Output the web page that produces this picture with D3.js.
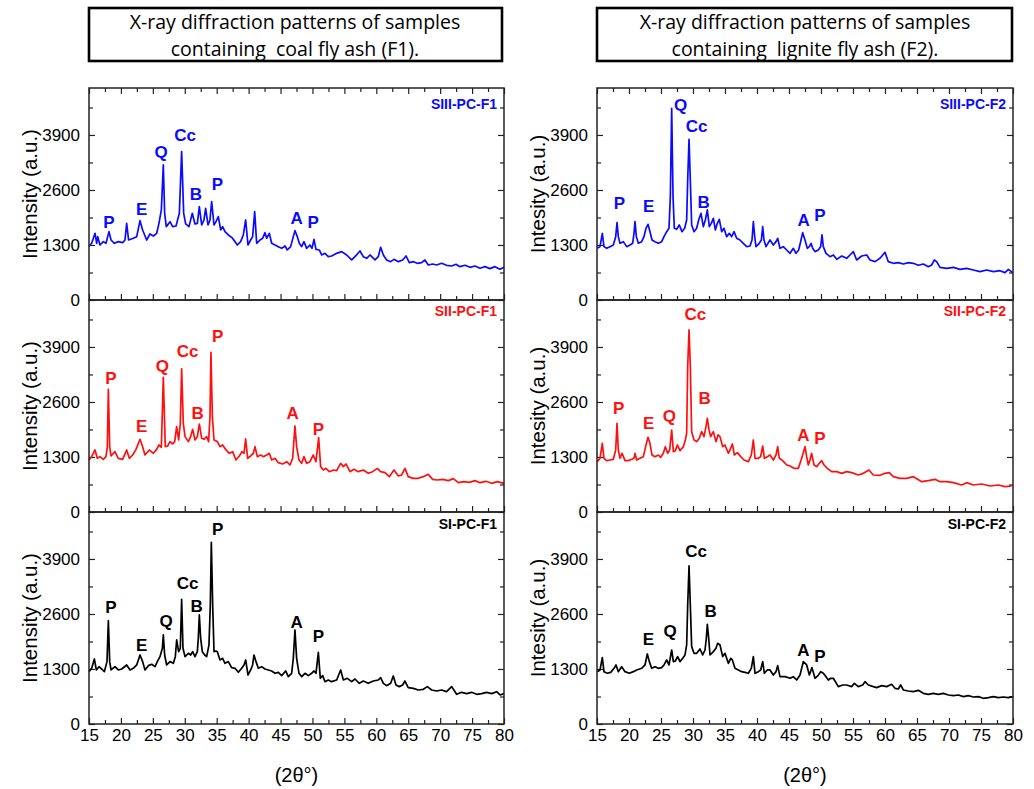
<!DOCTYPE html>
<html>
<head>
<meta charset="utf-8">
<script src="https://cdn.jsdelivr.net/npm/d3@7"></script>
<style>
  body { margin: 0; background: #fff; }
  text { font-family: "Liberation Sans", Arial, Helvetica, sans-serif; }
  text.header { font-family: "Open Sans", "Liberation Sans", Arial, sans-serif; white-space: pre; }
</style>
</head>
<body>
<svg id="chart" width="1034" height="789"></svg>
<script>
// ---- Axis ticks -------------------------------------------------------
const xMajorTicks = [15, 20, 25, 30, 35, 40, 45, 50, 55, 60, 65, 70, 75, 80];
const xMinorTicks = [17.5, 22.5, 27.5, 32.5, 37.5, 42.5, 47.5, 52.5, 57.5, 62.5, 67.5, 72.5, 77.5];
const yMajorTicks = [0, 1300, 2600, 3900];
const yMinorTicks = [650, 1950, 3250, 4550];

// ---- Diffraction patterns: [2θ (deg), intensity (a.u.)] ----------------
const siiiF1 = [[15.0,1270],[15.42,1340],[15.94,1576],[16.2,1340],[16.36,1497],[16.72,1300],[17.24,1379],[17.66,1340],[18.13,1615],[18.45,1418],[18.97,1340],[19.6,1379],[20.27,1355],[20.64,1418],[20.9,1812],[21.2,1418],[21.94,1458],[22.47,1497],[22.99,1875],[23.4,1655],[24.03,1418],[24.55,1560],[25.08,1513],[25.6,1576],[25.96,1812],[26.33,2128],[26.64,3191],[26.85,2049],[27.11,1734],[27.69,1852],[28.1,1734],[28.63,1749],[29.15,2049],[29.51,3507],[29.83,2049],[30.14,1797],[30.66,1734],[31.18,2049],[31.6,1797],[31.97,1812],[32.28,2206],[32.65,1773],[33.01,1891],[33.27,2167],[33.64,1773],[33.95,1891],[34.21,2325],[34.58,1773],[34.89,1852],[35.26,1970],[35.62,1655],[35.93,1734],[36.3,1615],[36.82,1537],[37.34,1481],[37.87,1379],[38.23,1300],[38.75,1379],[39.17,1537],[39.54,1891],[39.9,1300],[40.32,1418],[40.63,1497],[40.95,2088],[41.26,1340],[41.78,1418],[42.2,1458],[42.56,1592],[42.83,1458],[43.24,1576],[43.61,1340],[44.13,1300],[44.65,1261],[45.18,1221],[45.7,1277],[46.06,1182],[46.58,1261],[47.0,1497],[47.26,1639],[47.63,1497],[47.94,1340],[48.3,1261],[48.67,1379],[49.09,1221],[49.61,1300],[49.93,1221],[50.24,1434],[50.55,1198],[51.07,1182],[51.44,1064],[51.96,1103],[52.48,1024],[53.0,1040],[53.79,1103],[54.57,1143],[55.36,1064],[56.14,946],[56.66,1024],[57.44,1158],[57.96,1024],[58.49,985],[59.01,1064],[59.8,946],[60.31,1024],[60.68,1245],[61.1,1064],[61.62,946],[62.25,906],[62.77,961],[63.45,906],[64.13,946],[64.65,1040],[65.17,883],[65.8,906],[66.42,867],[67.1,883],[67.62,946],[68.14,827],[68.82,851],[69.45,827],[70.23,867],[71.0,820],[71.8,804],[72.48,843],[73.1,788],[73.9,820],[74.67,772],[75.45,804],[76.24,749],[77.02,788],[77.8,741],[78.59,788],[79.37,725],[80.0,772]];

const siiF1 = [[15.0,1229],[15.42,1308],[15.94,1466],[16.3,1269],[16.72,1308],[17.24,1245],[17.66,1308],[17.87,1544],[18.03,2900],[18.24,1544],[18.45,1324],[19.07,1426],[19.59,1269],[20.27,1245],[20.9,1466],[21.32,1269],[21.84,1347],[22.36,1481],[22.99,1718],[23.4,1544],[23.77,1347],[24.45,1466],[25.08,1387],[25.6,1481],[25.96,1584],[26.33,1529],[26.64,3184],[26.95,1544],[27.32,1560],[27.69,1663],[28.1,1608],[28.42,1663],[28.73,2017],[29.04,1702],[29.3,2096],[29.51,3381],[29.77,2096],[30.04,1781],[30.56,1663],[30.92,1781],[31.24,1954],[31.6,1702],[31.97,1781],[32.28,2080],[32.65,1741],[33.01,1718],[33.43,1781],[33.74,1663],[33.95,2254],[34.1,3775],[34.32,2254],[34.58,1702],[35.1,1663],[35.52,1544],[35.93,1584],[36.46,1466],[36.98,1387],[37.5,1426],[38.02,1229],[38.54,1324],[38.96,1426],[39.28,1387],[39.54,1726],[39.85,1269],[40.32,1324],[40.74,1387],[41.0,1544],[41.36,1308],[41.89,1347],[42.3,1308],[42.83,1347],[43.24,1387],[43.61,1229],[44.13,1269],[44.65,1166],[45.33,1135],[45.96,1190],[46.48,1111],[46.9,1269],[47.26,2033],[47.52,1544],[47.89,1229],[48.31,1150],[48.67,1308],[49.09,1150],[49.61,1190],[50.13,1347],[50.55,1190],[50.97,1757],[51.28,1072],[51.7,993],[52.12,1032],[52.64,953],[53.27,993],[53.79,977],[54.42,1150],[54.84,1072],[55.25,1135],[55.88,953],[56.5,1009],[57.18,953],[57.96,993],[58.74,914],[59.42,953],[60.16,1032],[60.68,953],[61.36,930],[62.04,835],[62.77,993],[63.45,851],[63.97,875],[64.49,1032],[65.0,835],[65.8,796],[66.58,796],[67.36,835],[68.14,890],[68.82,772],[69.55,756],[70.39,772],[71.28,741],[72.06,788],[72.84,693],[73.73,717],[74.57,701],[75.45,741],[76.24,693],[77.18,725],[78.07,678],[78.95,717],[80.0,678]];

const siF1 = [[15.0,1237],[15.42,1316],[15.84,1537],[16.15,1277],[16.57,1355],[16.98,1300],[17.4,1237],[17.82,1474],[18.03,2443],[18.24,1474],[18.45,1277],[19.07,1355],[19.59,1277],[20.12,1300],[20.9,1395],[21.42,1277],[21.94,1316],[22.47,1395],[22.99,1631],[23.4,1474],[23.77,1277],[24.29,1379],[24.81,1411],[25.34,1355],[25.7,1474],[26.12,1592],[26.49,1789],[26.64,2104],[26.85,1631],[27.16,1395],[27.69,1474],[28.21,1434],[28.52,1592],[28.73,1986],[29.04,1710],[29.3,1789],[29.51,2947],[29.72,1789],[30.04,1592],[30.56,1671],[30.92,1631],[31.24,1710],[31.6,1592],[31.97,1710],[32.12,2025],[32.28,2577],[32.49,2025],[32.75,1710],[33.12,1631],[33.43,1592],[33.79,1868],[34.0,2813],[34.16,4295],[34.37,2813],[34.58,1710],[34.89,1726],[35.1,1710],[35.52,1513],[35.93,1552],[36.3,1434],[36.82,1474],[37.34,1332],[37.87,1316],[38.39,1221],[38.91,1316],[39.28,1395],[39.54,1513],[39.9,1158],[40.32,1277],[40.63,1395],[40.84,1631],[41.16,1474],[41.52,1316],[42.04,1355],[42.56,1300],[43.09,1277],[43.61,1253],[44.13,1198],[44.65,1221],[45.18,1143],[45.8,1253],[46.22,1119],[46.74,1198],[47.0,1552],[47.26,2222],[47.52,1552],[47.89,1198],[48.31,1119],[48.83,1198],[49.35,1143],[49.87,1198],[50.24,1253],[50.55,1198],[50.92,1694],[51.23,1080],[51.6,1143],[51.96,1001],[52.48,1040],[53.0,1001],[53.79,1040],[54.42,1277],[54.84,1040],[55.46,1080],[56.14,1001],[56.66,1064],[57.34,961],[57.96,1016],[58.74,961],[59.53,1016],[60.31,1040],[60.68,1095],[61.1,961],[61.62,906],[62.25,961],[62.66,1135],[63.08,922],[63.6,883],[64.13,922],[64.49,1016],[65.0,859],[65.8,843],[66.58,804],[67.36,820],[67.99,883],[68.67,804],[69.45,780],[70.23,804],[71.0,764],[71.8,883],[72.16,804],[72.58,701],[73.36,749],[74.15,717],[74.93,749],[75.71,701],[76.5,717],[77.28,749],[78.07,717],[78.85,764],[79.37,686],[80.0,717]];

const siiiF2 = [[15.05,1221],[15.47,1261],[15.83,1576],[16.09,1261],[16.51,1221],[17.03,1261],[17.55,1300],[17.92,1497],[18.13,1828],[18.33,1497],[18.59,1340],[19.11,1379],[19.64,1261],[20.16,1300],[20.57,1340],[20.78,1576],[20.94,1852],[21.15,1497],[21.46,1340],[21.98,1379],[22.34,1497],[22.66,1694],[22.97,1789],[23.28,1615],[23.59,1418],[24.06,1379],[24.58,1340],[25.1,1379],[25.47,1497],[25.89,1615],[26.25,1694],[26.46,2443],[26.67,4531],[26.88,2443],[27.08,1694],[27.45,1671],[27.86,1773],[28.28,1615],[28.7,1694],[29.01,1891],[29.17,2837],[29.38,3798],[29.58,2837],[29.79,1773],[30.16,1615],[30.57,1694],[30.89,1891],[31.25,2049],[31.61,1734],[31.93,1891],[32.24,2128],[32.55,1734],[32.86,1812],[33.18,1931],[33.49,1655],[33.8,1812],[34.11,1907],[34.48,1615],[34.84,1694],[35.26,1497],[35.68,1576],[36.04,1497],[36.41,1615],[36.82,1458],[37.34,1418],[37.86,1340],[38.39,1261],[38.91,1277],[39.22,1418],[39.43,1852],[39.64,1497],[39.84,1261],[40.36,1340],[40.68,1418],[40.89,1734],[41.09,1418],[41.41,1261],[42.03,1418],[42.55,1300],[42.97,1379],[43.23,1458],[43.59,1221],[44.11,1261],[44.64,1182],[45.16,1103],[45.68,1221],[46.09,1103],[46.51,1182],[46.88,1418],[47.14,1592],[47.5,1418],[47.86,1221],[48.18,1261],[48.44,1340],[48.7,1221],[49.06,1143],[49.58,1182],[49.95,1261],[50.16,1537],[50.36,1261],[50.78,1103],[51.41,1024],[51.93,1064],[52.45,961],[53.23,1040],[54.01,985],[54.53,1064],[55.05,1143],[55.57,946],[56.35,1040],[57.14,1064],[57.66,946],[58.44,906],[59.22,985],[60.0,1127],[60.52,906],[61.3,867],[62.08,883],[62.86,851],[63.65,883],[64.43,867],[65.21,820],[65.99,851],[66.77,788],[67.29,827],[67.71,946],[68.07,906],[68.59,772],[69.64,749],[70.68,772],[71.72,725],[72.76,749],[73.8,709],[74.84,670],[75.89,709],[76.93,670],[77.97,693],[78.75,646],[79.27,725],[79.95,646]];

const siiF2 = [[15.05,1190],[15.47,1269],[15.83,1623],[16.09,1269],[16.51,1214],[17.03,1229],[17.55,1245],[17.92,1466],[18.13,2096],[18.33,1466],[18.59,1269],[18.91,1387],[19.38,1214],[19.9,1214],[20.42,1245],[20.78,1269],[20.94,1387],[21.2,1229],[21.72,1269],[22.24,1308],[22.6,1544],[22.97,1765],[23.28,1623],[23.59,1347],[24.06,1308],[24.58,1347],[24.95,1292],[25.36,1387],[25.68,1544],[26.04,1387],[26.35,1466],[26.67,1938],[26.93,1426],[27.24,1450],[27.55,1584],[27.97,1450],[28.49,1544],[28.8,1702],[29.01,1860],[29.17,3436],[29.38,4302],[29.58,3436],[29.79,1899],[30.16,1702],[30.57,1663],[30.99,1741],[31.35,1899],[31.72,1781],[32.03,2017],[32.24,2214],[32.5,1938],[32.76,1781],[33.18,1899],[33.59,1663],[33.91,1820],[34.22,1781],[34.64,1544],[35.0,1584],[35.52,1387],[35.78,1466],[36.15,1608],[36.46,1347],[36.93,1403],[37.45,1308],[37.97,1229],[38.65,1190],[39.11,1347],[39.43,1702],[39.69,1269],[40.21,1269],[40.57,1308],[40.89,1560],[41.15,1269],[41.61,1308],[42.03,1347],[42.55,1229],[42.97,1347],[43.23,1544],[43.49,1269],[44.01,1214],[44.64,1111],[45.16,1087],[45.78,1032],[46.46,1032],[46.98,1269],[47.5,1544],[47.76,1308],[48.02,1111],[48.28,1229],[48.54,1387],[48.91,1111],[49.32,1072],[49.74,1150],[50.1,1214],[50.47,1111],[50.99,1032],[51.67,953],[52.45,953],[53.23,914],[54.01,953],[54.79,930],[55.83,875],[56.61,914],[57.5,993],[58.18,875],[59.22,867],[60.0,914],[60.68,930],[61.3,835],[62.34,796],[63.39,796],[64.43,835],[64.84,796],[65.73,717],[66.77,741],[67.81,772],[68.59,717],[69.64,717],[70.68,693],[71.98,638],[72.76,693],[73.8,638],[75.1,662],[76.41,615],[77.71,638],[78.75,599],[79.79,615]];

const siF2 = [[15.05,1237],[15.47,1277],[15.83,1568],[16.09,1237],[16.61,1198],[17.14,1221],[17.66,1316],[17.97,1395],[18.33,1237],[18.85,1355],[19.38,1237],[20.05,1198],[20.68,1237],[21.2,1277],[21.98,1316],[22.5,1395],[22.86,1655],[23.18,1474],[23.54,1316],[24.06,1355],[24.58,1316],[25.1,1332],[25.47,1395],[25.89,1513],[26.25,1395],[26.67,1749],[26.93,1474],[27.24,1489],[27.6,1592],[27.97,1474],[28.39,1552],[28.75,1631],[29.01,1868],[29.17,2813],[29.38,3735],[29.58,2813],[29.79,1828],[30.16,1671],[30.57,1671],[31.09,1773],[31.51,1631],[31.88,1749],[32.08,2025],[32.24,2356],[32.45,2025],[32.66,1631],[33.18,1710],[33.59,1789],[33.85,1907],[34.22,1868],[34.64,1592],[35.0,1671],[35.52,1434],[35.89,1552],[36.15,1513],[36.56,1316],[37.08,1277],[37.6,1237],[38.13,1221],[38.65,1198],[39.11,1316],[39.43,1592],[39.69,1198],[40.21,1237],[40.57,1277],[40.89,1474],[41.15,1198],[41.61,1277],[42.03,1277],[42.55,1158],[42.97,1237],[43.23,1379],[43.59,1119],[44.38,1119],[45.16,1080],[45.68,1119],[46.2,1040],[46.72,1158],[47.24,1474],[47.76,1395],[48.18,1158],[48.59,1332],[49.06,1080],[49.53,1143],[49.95,1237],[50.36,1198],[50.78,1119],[51.15,1040],[51.51,1080],[51.93,1080],[52.71,883],[53.39,922],[54.01,922],[54.79,883],[55.21,961],[55.83,883],[56.51,922],[56.88,1001],[57.4,922],[58.18,883],[58.7,859],[59.48,906],[60.26,883],[61.04,938],[61.56,843],[62.08,827],[62.45,922],[62.86,804],[63.65,780],[64.43,764],[65.21,796],[65.99,725],[66.77,701],[67.55,725],[68.33,701],[69.11,725],[69.9,686],[70.68,670],[71.46,686],[72.24,646],[73.02,670],[73.8,638],[74.58,646],[75.36,607],[76.15,623],[76.93,646],[77.71,623],[78.49,638],[79.27,623],[79.95,646]];

// ---- Phase markers: [label, 2θ, intensity at label centre] -------------
const siiiF1Phases = [["P",18.13,1852],["E",23.25,2143],["Q",26.28,3507],["Cc",30.04,3901],["B",31.76,2498],["P",35.1,2742],["A",47.52,1931],["P",50.13,1852]];
const siiF1Phases  = [["P",18.45,3160],["E",23.25,2033],["Q",26.49,3451],["Cc",30.45,3806],["B",32.02,2332],["P",35.15,4161],["A",46.9,2332],["P",50.92,1954]];
const siF1Phases   = [["P",18.45,2774],["E",23.25,1868],["Q",27.06,2435],["Cc",30.45,3341],["B",31.86,2797],["P",35.15,4610],["A",47.52,2419],["P",50.92,2080]];
const siiiF2Phases = [["P",18.49,2285],["E",23.07,2222],["Q",28.07,4610],["Cc",30.57,4121],["B",31.67,2325],["A",47.3,1900],["P",49.84,2009]];
const siiF2Phases  = [["P",18.39,2466],["E",23.07,2112],["Q",26.3,2269],["Cc",30.36,4681],["B",31.82,2687],["A",47.24,1820],["P",49.84,1757]];
const siF2Phases   = [["E",23.02,2009],["Q",26.41,2199],["Cc",30.47,4098],["B",32.76,2671],["A",47.24,1749],["P",49.84,1615]];

// ---- Sample names, colours and headers ---------------------------------
const sampleNames = [["SIII-PC-F1","SII-PC-F1","SI-PC-F1"],["SIII-PC-F2","SII-PC-F2","SI-PC-F2"]];
const sampleColors = ["#0a0aff", "#ff1010", "#000000"];
const headers = [
  ["X-ray diffraction patterns of samples", "containing  coal fly ash (F1)."],
  ["X-ray diffraction patterns of samples", "containing  lignite fly ash (F2)."]
];
const yTitles = ["Intensity (a.u.)", "Intesity (a.u.)"];
const xTitle = "(2\u03b8\u00b0)";

const patterns = [[siiiF1, siiF1, siF1], [siiiF2, siiF2, siF2]];
const phases = [[siiiF1Phases, siiF1Phases, siF1Phases], [siiiF2Phases, siiF2Phases, siF2Phases]];

// ---- Layout --------------------------------------------------------------
const svg = d3.select("#chart");
const columns = [{ left: 89, right: 504 }, { left: 597, right: 1013 }];
const rowTops = [88, 300, 512];
const panelH = 212;
const nameOffset = [21, 16, 17];
const frameColor = "#222";

columns.forEach((col, ci) => {
  const x = d3.scaleLinear().domain([15, 80]).range([col.left, col.right]);
  const cx = (col.left + col.right) / 2;

  // header box
  const hb = svg.append("g");
  hb.append("rect")
    .attr("x", col.left).attr("y", 8)
    .attr("width", (ci === 0 ? 413 : 415)).attr("height", 53)
    .attr("fill", "none").attr("stroke", "#000").attr("stroke-width", 2.6);
  hb.selectAll("text").data(headers[ci]).join("text")
    .attr("class", "header")
    .attr("x", (ci === 0 ? 295 : 805)).attr("y", (d, i) => 29 + i * 27)
    .attr("text-anchor", "middle")
    .attr("font-size", 19.5)
    .attr("fill", "#000")
    .text(d => d);

  rowTops.forEach((top, ri) => {
    const bottom = top + panelH;
    const y = d3.scaleLinear().domain([0, 5010]).range([bottom, top]);
    const g = svg.append("g");

    // ticks, all pointing into the plot area
    const addAxis = (axis, tx, ty, withLabels) => {
      const a = g.append("g").attr("transform", `translate(${tx},${ty})`).call(axis);
      a.select(".domain").remove();
      a.selectAll(".tick line").attr("stroke", frameColor).attr("stroke-width", 1.2);
      if (!withLabels) a.selectAll(".tick text").remove();
      return a;
    };

    const xb = addAxis(d3.axisBottom(x).tickValues(xMajorTicks).tickSize(-6).tickPadding(5).tickFormat(d3.format("d")), 0, bottom, ri === 2);
    xb.selectAll(".tick text").attr("font-size", 17).attr("fill", "#000");
    addAxis(d3.axisBottom(x).tickValues(xMinorTicks).tickSize(-4).tickFormat(""), 0, bottom, false);
    if (ri === 0) {
      addAxis(d3.axisTop(x).tickValues(xMajorTicks).tickSize(-6).tickFormat(""), 0, top, false);
      addAxis(d3.axisTop(x).tickValues(xMinorTicks).tickSize(-4).tickFormat(""), 0, top, false);
    }
    const yl = addAxis(d3.axisLeft(y).tickValues(yMajorTicks).tickSize(-6).tickPadding(9).tickFormat(d3.format("d")), col.left, 0, true);
    yl.selectAll(".tick text").attr("font-size", 17).attr("fill", "#000");
    addAxis(d3.axisLeft(y).tickValues(yMinorTicks).tickSize(-4).tickFormat(""), col.left, 0, false);
    addAxis(d3.axisRight(y).tickValues(yMajorTicks).tickSize(-6).tickFormat(""), col.right, 0, false);
    addAxis(d3.axisRight(y).tickValues(yMinorTicks).tickSize(-4).tickFormat(""), col.right, 0, false);

    // pattern trace
    const line = d3.line().x(d => x(d[0])).y(d => y(d[1]));
    g.append("path")
      .datum(patterns[ci][ri])
      .attr("d", line)
      .attr("fill", "none")
      .attr("stroke", sampleColors[ri])
      .attr("stroke-width", 1.7)
      .attr("stroke-linejoin", "round");

    // frame
    g.append("rect")
      .attr("x", col.left).attr("y", top)
      .attr("width", col.right - col.left).attr("height", panelH)
      .attr("fill", "none").attr("stroke", frameColor).attr("stroke-width", 1.5);

    // phase labels
    g.selectAll("text.phase").data(phases[ci][ri]).join("text")
      .attr("class", "phase")
      .attr("x", d => x(d[1]))
      .attr("y", d => y(d[2]))
      .attr("dy", "0.36em")
      .attr("text-anchor", "middle")
      .attr("font-size", 17)
      .attr("font-weight", "bold")
      .attr("fill", sampleColors[ri])
      .text(d => d[0]);

    // sample name
    g.append("text")
      .attr("x", col.right - 7).attr("y", top + nameOffset[ri])
      .attr("text-anchor", "end")
      .attr("font-size", 14)
      .attr("font-weight", "bold")
      .attr("fill", sampleColors[ri])
      .text(sampleNames[ci][ri]);

    // y title
    const ty = (top + bottom) / 2;
    const tx = ci === 0 ? 30 : 538;
    g.append("text")
      .attr("transform", `translate(${tx},${ty}) rotate(-90)`)
      .attr("text-anchor", "middle")
      .attr("dy", "0.35em")
      .attr("font-size", 20.5)
      .attr("fill", "#000")
      .text(yTitles[ci]);
  });

  // x title
  svg.append("text")
    .attr("x", cx).attr("y", 782)
    .attr("text-anchor", "middle")
    .attr("font-size", 20)
    .attr("fill", "#000")
    .text(xTitle);
});
</script>
</body>
</html>
